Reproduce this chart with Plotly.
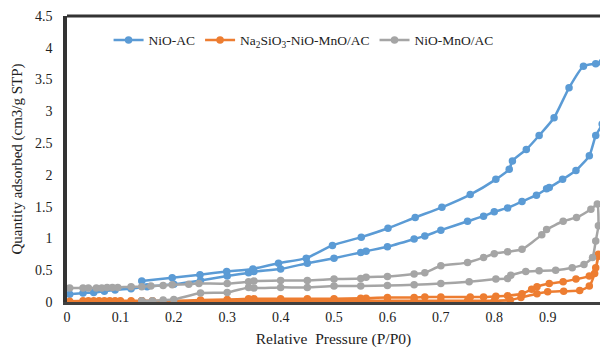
import plotly.graph_objects as go

# NiO-AC
nio_ads_x = [0.005, 0.03, 0.05, 0.07, 0.09, 0.12, 0.15, 0.2, 0.25, 0.3, 0.34, 0.35, 0.4, 0.45, 0.5, 0.55, 0.56,
             0.6, 0.65, 0.67, 0.7, 0.75, 0.78, 0.8, 0.825, 0.852, 0.879, 0.898, 0.903, 0.928, 0.953, 0.978, 0.99, 1.002]
nio_ads_y = [0.12, 0.14, 0.15, 0.17, 0.19, 0.21, 0.24, 0.28, 0.34, 0.41, 0.46, 0.48, 0.52, 0.61, 0.69, 0.78, 0.80,
             0.87, 0.99, 1.04, 1.13, 1.27, 1.35, 1.42, 1.48, 1.58, 1.68, 1.78, 1.80, 1.93, 2.07, 2.30, 2.62, 2.80]
nio_des_x = [1.002, 0.99, 0.967, 0.94, 0.912, 0.884, 0.86, 0.834, 0.828, 0.803, 0.755, 0.702, 0.652, 0.601, 0.551,
             0.497, 0.448, 0.396, 0.348, 0.299, 0.249, 0.197, 0.14]
nio_des_y = [3.77, 3.75, 3.71, 3.37, 2.90, 2.62, 2.40, 2.22, 2.09, 1.93, 1.69, 1.49, 1.33, 1.16, 1.02,
             0.89, 0.69, 0.61, 0.52, 0.48, 0.43, 0.38, 0.33]

# Na2SiO3-NiO-MnO/AC
na_ads_x = [0.005, 0.03, 0.04, 0.05, 0.06, 0.07, 0.08, 0.09, 0.1, 0.12, 0.14, 0.16, 0.2, 0.25, 0.3, 0.34, 0.35,
            0.4, 0.45, 0.5, 0.55, 0.6, 0.65, 0.7, 0.75, 0.8, 0.83, 0.85, 0.88, 0.9, 0.93, 0.96, 0.978, 0.988, 0.995]
na_ads_y = [0.01, 0.02, 0.02, 0.02, 0.02, 0.02, 0.02, 0.02, 0.02, 0.02, 0.02, 0.02, 0.02, 0.02, 0.02, 0.02, 0.02,
            0.02, 0.02, 0.02, 0.02, 0.02, 0.02, 0.02, 0.02, 0.02, 0.03, 0.07, 0.13, 0.16, 0.17, 0.18, 0.25, 0.45, 0.72]
na_des_x = [0.995, 0.99, 0.978, 0.953, 0.929, 0.903, 0.88, 0.87, 0.852, 0.825, 0.803, 0.78, 0.755, 0.7, 0.67,
            0.65, 0.6, 0.56, 0.55, 0.5, 0.45, 0.4, 0.35, 0.34, 0.3, 0.25, 0.2, 0.14]
na_des_y = [0.75, 0.54, 0.41, 0.36, 0.32, 0.29, 0.24, 0.20, 0.13, 0.10, 0.09, 0.08, 0.08, 0.08, 0.08,
            0.07, 0.07, 0.06, 0.06, 0.05, 0.05, 0.05, 0.05, 0.05, 0.04, 0.03, 0.02, 0.02]

# NiO-MnO/AC
mn_ads_x = [0.005, 0.03, 0.04, 0.055, 0.065, 0.075, 0.085, 0.095, 0.12, 0.14, 0.157, 0.18, 0.197, 0.228, 0.247,
            0.3, 0.34, 0.35, 0.4, 0.45, 0.5, 0.55, 0.56, 0.6, 0.65, 0.67, 0.7, 0.75, 0.78, 0.8, 0.825, 0.852,
            0.889, 0.898, 0.929, 0.954, 0.981, 0.993]
mn_ads_y = [0.22, 0.22, 0.22, 0.22, 0.22, 0.23, 0.23, 0.23, 0.24, 0.24, 0.25, 0.26, 0.27, 0.28, 0.29,
            0.29, 0.32, 0.33, 0.34, 0.34, 0.36, 0.37, 0.39, 0.40, 0.44, 0.46, 0.57, 0.62, 0.70, 0.76, 0.79, 0.83,
            1.06, 1.14, 1.27, 1.33, 1.46, 1.54]
mn_des_x = [0.995, 0.99, 0.984, 0.968, 0.946, 0.915, 0.884, 0.859, 0.831, 0.825, 0.803, 0.753, 0.7, 0.65, 0.6,
            0.55, 0.5, 0.45, 0.4, 0.35, 0.34, 0.3, 0.25, 0.2, 0.18, 0.16, 0.14]
mn_des_y = [1.2, 0.96, 0.70, 0.59, 0.54, 0.50, 0.49, 0.48, 0.42, 0.37, 0.36, 0.32, 0.29, 0.27, 0.26,
            0.25, 0.25, 0.23, 0.23, 0.22, 0.23, 0.15, 0.14, 0.04, 0.03, 0.02, 0.02]

series = [
    ("NiO-AC", nio_ads_x + nio_des_x, nio_ads_y + nio_des_y, "#5B9BD5"),
    ("Na<sub>2</sub>SiO<sub>3</sub>-NiO-MnO/AC", na_ads_x + na_des_x, na_ads_y + na_des_y, "#ED7D31"),
    ("NiO-MnO/AC", mn_ads_x + mn_des_x, mn_ads_y + mn_des_y, "#A5A5A5"),
]

font_family = "Liberation Serif"

fig = go.Figure()
for name, xs, ys, color in series:
    fig.add_trace(go.Scatter(
        x=xs, y=ys, name=name, mode="lines+markers",
        line=dict(color=color, width=2.5, shape="spline", smoothing=0.5),
        marker=dict(color=color, size=7.5, symbol="circle"),
    ))

fig.update_layout(
    width=600, height=350,
    margin=dict(l=67, r=0, t=16, b=48, autoexpand=False),
    paper_bgcolor="white", plot_bgcolor="white",
    font=dict(family=font_family, size=14, color="#222"),
    showlegend=True,
    legend=dict(orientation="h", x=0.078, y=0.915, xanchor="left", yanchor="middle",
                font=dict(family=font_family, size=13.5, color="#222"),
                bgcolor="rgba(0,0,0,0)", itemwidth=30, tracegroupgap=0),
    shapes=[dict(type="line", xref="paper", yref="paper", x0=0, x1=1, y0=1, y1=1,
                 line=dict(color="#333333", width=3))],
)
fig.update_xaxes(
    range=[0, 0.998], tickvals=[0, 0.1, 0.2, 0.3, 0.4, 0.5, 0.6, 0.7, 0.8, 0.9],
    ticktext=["0", "0.1", "0.2", "0.3", "0.4", "0.5", "0.6", "0.7", "0.8", "0.9"],
    showgrid=False, zeroline=False, showline=True, linecolor="#404040", linewidth=2.5,
    ticks="", automargin=False, tickfont=dict(size=14, family=font_family),
    title=dict(text="Relative  Pressure (P/P0)", font=dict(size=15.5, family=font_family), standoff=10),
)
fig.update_yaxes(
    range=[0, 4.5], tickvals=[0, 0.5, 1, 1.5, 2, 2.5, 3, 3.5, 4, 4.5],
    ticktext=["0", "0.5", "1", "1.5", "2", "2.5", "3", "3.5", "4", "4.5"],
    showgrid=False, zeroline=False, showline=True, linecolor="#333333", linewidth=3.5,
    ticks="", automargin=False, ticklabelstandoff=8, tickfont=dict(size=14, family=font_family),
    title=dict(text="Quantity adsorbed (cm3/g STP)", font=dict(size=15, family=font_family), standoff=10),
)

fig.write_html("out.html", config={"displayModeBar": False},
               post_script="document.body.style.margin='0';document.body.style.overflow='hidden';")
